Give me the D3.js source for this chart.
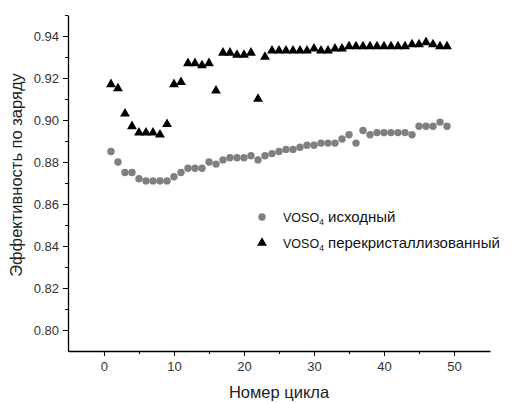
<!DOCTYPE html>
<html>
<head>
<meta charset="utf-8">
<script src="https://cdn.jsdelivr.net/npm/d3@7"></script>
<style>
  html, body { margin: 0; padding: 0; background: #fff; }
  svg { display: block; font-family: "Liberation Sans", Arial, sans-serif; }
</style>
</head>
<body>
<svg id="chart" width="524" height="403"></svg>
<script>
// Coulombic efficiency per cycle for two VOSO4 electrolyte samples
const cycles = d3.range(1, 50);

const originalValues = [
  0.885, 0.880, 0.875, 0.875, 0.872, 0.871, 0.871, 0.871, 0.871, 0.873,
  0.875, 0.877, 0.877, 0.877, 0.880, 0.879, 0.881, 0.882, 0.882, 0.882,
  0.883, 0.881, 0.883, 0.884, 0.885, 0.886, 0.886, 0.887, 0.888, 0.888,
  0.889, 0.889, 0.889, 0.891, 0.893, 0.889, 0.895, 0.893, 0.894, 0.894,
  0.894, 0.894, 0.894, 0.893, 0.897, 0.897, 0.897, 0.899, 0.897
];

const recrystValues = [
  0.917, 0.915, 0.903, 0.897, 0.894, 0.894, 0.894, 0.893, 0.898, 0.917,
  0.918, 0.927, 0.927, 0.926, 0.927, 0.914, 0.932, 0.932, 0.931, 0.931,
  0.932, 0.910, 0.930, 0.933, 0.933, 0.933, 0.933, 0.933, 0.933, 0.934,
  0.933, 0.933, 0.934, 0.934, 0.935, 0.935, 0.935, 0.935, 0.935, 0.935,
  0.935, 0.935, 0.935, 0.936, 0.936, 0.937, 0.936, 0.935, 0.935
];

const xTicks = [0, 10, 20, 30, 40, 50];
const xMinorTicks = [5, 15, 25, 35, 45];
const yTicks = [0.80, 0.82, 0.84, 0.86, 0.88, 0.90, 0.92, 0.94];
const yMinorTicks = [0.81, 0.83, 0.85, 0.87, 0.89, 0.91, 0.93, 0.95];

const seriesNames = ["исходный", "перекристаллизованный"];

const svg = d3.select("#chart");
const plotLeft = 68, plotRight = 490, plotTop = 15, plotBottom = 351;

const x = d3.scaleLinear().domain([-5.14, 55.14]).range([plotLeft, plotRight]);
const y = d3.scaleLinear().domain([0.79, 0.95]).range([plotBottom, plotTop]);

// Axes with major and minor ticks
svg.append("g").attr("transform", `translate(0,${plotBottom})`)
  .call(d3.axisBottom(x).tickValues(xTicks).tickFormat(d3.format("d"))
    .tickSizeInner(5).tickSizeOuter(0).tickPadding(6));
svg.append("g").attr("transform", `translate(0,${plotBottom})`)
  .call(d3.axisBottom(x).tickValues(xMinorTicks).tickFormat("")
    .tickSizeInner(3).tickSizeOuter(0))
  .select(".domain").remove();

svg.append("g").attr("transform", `translate(${plotLeft},0)`)
  .call(d3.axisLeft(y).tickValues(yTicks).tickFormat(d3.format(".2f"))
    .tickSizeInner(5).tickSizeOuter(0).tickPadding(4));
svg.append("g").attr("transform", `translate(${plotLeft},0)`)
  .call(d3.axisLeft(y).tickValues(yMinorTicks).tickFormat("")
    .tickSizeInner(3).tickSizeOuter(0))
  .select(".domain").remove();

svg.selectAll(".domain").attr("stroke", "#000").attr("stroke-width", 1.3);
svg.selectAll(".tick line").attr("stroke", "#000").attr("stroke-width", 1);
svg.selectAll(".tick text").attr("font-size", 13).attr("fill", "#333")
  .attr("font-family", "Liberation Sans, Arial, sans-serif");

// Axis titles
svg.append("text")
  .attr("x", 279).attr("y", 398)
  .attr("text-anchor", "middle")
  .attr("font-size", 16.5).attr("fill", "#222")
  .text("Номер цикла");

svg.append("text")
  .attr("transform", `translate(22,175) rotate(-90)`)
  .attr("text-anchor", "middle")
  .attr("font-size", 16.5).attr("fill", "#222")
  .text("Эффективность по заряду");

// Markers
const tri = d3.symbol().type(d3.symbolTriangle).size(42);

svg.append("g").selectAll("circle")
  .data(cycles.map((c, i) => [c, originalValues[i]]))
  .join("circle")
  .attr("cx", d => x(d[0]))
  .attr("cy", d => y(d[1]))
  .attr("r", 3.7)
  .attr("fill", "#808080");

svg.append("g").selectAll("path")
  .data(cycles.map((c, i) => [c, recrystValues[i]]))
  .join("path")
  .attr("d", tri)
  .attr("transform", d => `translate(${x(d[0])},${y(d[1])})`)
  .attr("fill", "#000");

// Legend: formula in a smaller face, sample description larger
const legend = svg.append("g").attr("fill", "#111");
legend.append("circle").attr("cx", 262).attr("cy", 217).attr("r", 3.7).attr("fill", "#808080");
legend.append("path").attr("d", tri).attr("transform", "translate(262,243)").attr("fill", "#000");

seriesNames.forEach((name, i) => {
  const t = legend.append("text").attr("x", 283).attr("y", 222 + i * 26).attr("font-size", 12.5);
  t.append("tspan").text("VOSO");
  t.append("tspan").attr("font-size", 8.5).attr("dy", 3).text("4");
  t.append("tspan").attr("dy", -3).attr("font-size", 15).text(" " + name);
});
</script>
</body>
</html>
